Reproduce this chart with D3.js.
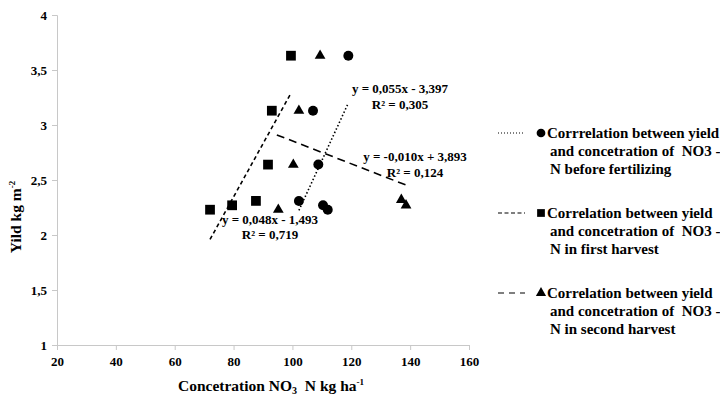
<!DOCTYPE html>
<html>
<head>
<meta charset="utf-8">
<script src="https://cdn.jsdelivr.net/npm/d3@7"></script>
<style>
  body { margin: 0; background: #fff; }
  text { font-family: "Liberation Serif", "DejaVu Serif", serif; font-weight: bold; fill: #000; }
</style>
</head>
<body>
<div id="chart"></div>
<script>
// values
const beforeX = [102.2, 107, 108.8, 110.4, 112, 119];
const beforeY = [2.31, 3.13, 2.64, 2.27, 2.23, 3.63];
const firstX = [72, 79.5, 87.6, 91.7, 93, 99.5];
const firstY = [2.23, 2.27, 2.31, 2.64, 3.13, 3.63];
const secondX = [95.2, 100.3, 102.2, 109.4, 137, 138.6];
const secondY = [2.23, 2.64, 3.13, 3.63, 2.32, 2.27];

// trend line ends [x0, y0, x1, y1]
const beforeTrend = [102.2, 2.224, 119, 3.2];
const firstTrend = [72, 1.96, 99.5, 3.29];
const secondTrend = [94.7, 2.91, 139, 2.45];

const equations = ["y = 0,055x - 3,397", "y = 0,048x - 1,493", "y = -0,010x + 3,893"];
const rSquared = ["R² = 0,305", "R² = 0,719", "R² = 0,124"];

const xTicks = [20, 40, 60, 80, 100, 120, 140, 160];
const yTicks = [1, 1.5, 2, 2.5, 3, 3.5, 4];

const legendLines = [
  ["Corrrelation between yield", "and concetration of  NO3 -", "N before fertilizing"],
  ["Correlation between yield", "and concetration of  NO3 -", "N in first harvest"],
  ["Correlation between yield", "and concetration of  NO3 -", "N in second harvest"]
];

const W = 720, H = 396;
const svg = d3.select("#chart").append("svg").attr("width", W).attr("height", H);

const x = d3.scaleLinear().domain([20, 160]).range([57, 469]);
const y = d3.scaleLinear().domain([1, 4]).range([345, 15]);
const fmt = d => String(d).replace(".", ",");

// axes
const xAxis = svg.append("g").attr("transform", `translate(0,${y(1)})`)
  .call(d3.axisBottom(x).tickValues(xTicks).tickFormat(fmt).tickSize(5).tickPadding(7));
const yAxis = svg.append("g").attr("transform", `translate(${x(20)},0)`)
  .call(d3.axisLeft(y).tickValues(yTicks).tickFormat(fmt).tickSize(5).tickPadding(5));
[xAxis, yAxis].forEach(a => {
  a.selectAll("path, line").attr("stroke", "#c8c8c8");
  a.selectAll("text").style("font-family", "Liberation Serif, serif")
    .style("font-weight", "bold").style("font-size", "13px").attr("fill", "#000");
});

// axis titles
const xt = svg.append("text").attr("x", 271).attr("y", 391).attr("text-anchor", "middle")
  .style("font-size", "15.5px").style("white-space", "pre");
xt.append("tspan").text("Concetration NO");
xt.append("tspan").attr("dy", 3).style("font-size", "10px").text("3");
xt.append("tspan").attr("dy", -3).text("  N kg ha");
xt.append("tspan").attr("dy", -6).style("font-size", "9px").text("-1");

const yt = svg.append("text").attr("transform", "translate(21,217) rotate(-90)")
  .attr("text-anchor", "middle").style("font-size", "15.5px");
yt.append("tspan").text("Yild kg m");
yt.append("tspan").attr("dy", -6).style("font-size", "9px").text("-2");

// trend lines
const dashes = ["1.5,2.2", "4,3", "8,5"];
[beforeTrend, firstTrend, secondTrend].forEach((t, i) => {
  svg.append("line")
    .attr("x1", x(t[0])).attr("y1", y(t[1]))
    .attr("x2", x(t[2])).attr("y2", y(t[3]))
    .attr("stroke", "#000").attr("stroke-width", 1.6)
    .attr("stroke-dasharray", dashes[i]);
});

// markers
const circleSym = d3.symbol().type(d3.symbolCircle).size(78);
const squareSym = d3.symbol().type(d3.symbolSquare).size(95);
const triSym = d3.symbol().type(d3.symbolTriangle).size(50);
const series = [
  [beforeX, beforeY, circleSym],
  [firstX, firstY, squareSym],
  [secondX, secondY, triSym]
];
series.forEach(([xs, ys, sym]) => {
  svg.append("g").selectAll("path").data(xs).join("path")
    .attr("d", sym)
    .attr("transform", (d, i) => `translate(${x(d)},${y(ys[i])})`)
    .attr("fill", "#000");
});

// equations
const eqPos = [[400, 93, 400, 109], [270, 224, 270, 239], [415, 161, 415, 177]];
eqPos.forEach((p, i) => {
  svg.append("text").attr("x", p[0]).attr("y", p[1]).attr("text-anchor", "middle")
    .style("font-size", "13px").text(equations[i]);
  svg.append("text").attr("x", p[2]).attr("y", p[3]).attr("text-anchor", "middle")
    .style("font-size", "13px").text(rSquared[i]);
});

// legend
const legendDash = ["1,2", "4,2.5", "6,5"];
legendLines.forEach((lines, i) => {
  const top = 133 + i * 80;
  svg.append("line").attr("x1", 498).attr("x2", 525).attr("y1", top).attr("y2", top)
    .attr("stroke", "#000").attr("stroke-width", 1.2).attr("stroke-dasharray", legendDash[i]);
  svg.append("path").attr("d", d3.symbol().type([d3.symbolCircle, d3.symbolSquare, d3.symbolTriangle][i]).size(i === 2 ? 45 : 60))
    .attr("transform", `translate(541,${top})`).attr("fill", "#000");
  lines.forEach((l, j) => {
    svg.append("text").attr("x", j === 0 ? 547 : 550).attr("y", top + 5 + j * 18)
      .style("font-size", "15px").style("white-space", "pre").text(l);
  });
});
</script>
</body>
</html>
